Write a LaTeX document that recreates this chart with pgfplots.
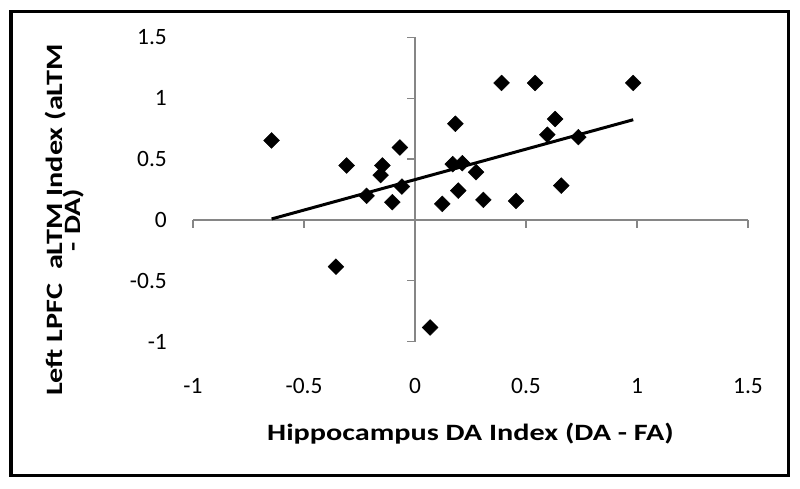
\documentclass[border=0pt]{standalone}
\usepackage{pgfplots}
\pgfplotsset{compat=1.18}
\usepackage{fontspec}
\setmainfont{Carlito}
\definecolor{axgray}{RGB}{134,134,134}
\begin{document}
\begin{tikzpicture}
\path[use as bounding box] (0,0) rectangle (800bp,489bp);
\draw[line width=3.5bp] (11bp,13.5bp) rectangle (788.5bp,477.5bp);
% axis lines through the origin
\begin{axis}[at={(193bp,147.3bp)}, anchor=south west, scale only axis,
  width=555bp, height=304.4bp,
  xmin=-1, xmax=1.5, ymin=-1, ymax=1.5,
  axis lines=middle, axis line style={-, draw=axgray, line width=1.2bp},
  xtick={-1,-0.5,0,0.5,1,1.5}, ytick={-1,-0.5,0,0.5,1,1.5},
  xticklabels={}, yticklabels={},
  tick align=outside, major tick length=8bp,
  tick style={draw=axgray, line width=1.2bp},
  clip=false]
\end{axis}
% labels and data
\begin{axis}[at={(193bp,147.3bp)}, anchor=south west, scale only axis,
  width=555bp, height=304.4bp,
  xmin=-1, xmax=1.5, ymin=-1, ymax=1.5,
  axis x line=bottom, axis y line=left, axis line style={draw=none},
  xtick={-1,-0.5,0,0.5,1,1.5}, ytick={-1,-0.5,0,0.5,1,1.5},
  xticklabels={-1,-0.5,0,0.5,1,1.5}, yticklabels={-1,-0.5,0,0.5,1,1.5},
  major tick length=0pt, tick style={draw=none},
  ticklabel style={font=\fontsize{23.5}{28}\selectfont},
  xticklabel style={anchor=north, inner sep=0pt, yshift=-36.3bp},
  yticklabel style={anchor=east, inner sep=0pt, xshift=-26bp},
  xlabel={\scalebox{1.29}[1]{Hippocampus DA Index (DA - FA)}},
  xlabel style={at={(axis description cs:0.5,0)}, anchor=base, inner sep=0pt,
    yshift=-98.3bp, font=\fontsize{23.5}{28}\selectfont\bfseries},
  clip=false]
\addplot[only marks, mark=square*, mark size=5.6bp,
  mark options={rotate=45, fill=black, draw=black}] coordinates {
(-0.646,0.653) (-0.356,-0.384) (-0.308,0.447) (-0.218,0.198) (-0.155,0.368)
(-0.147,0.447) (-0.102,0.146) (-0.068,0.595) (-0.059,0.274) (0.068,-0.883)
(0.123,0.132) (0.170,0.458) (0.182,0.790) (0.195,0.241) (0.213,0.466)
(0.275,0.392) (0.308,0.165) (0.390,1.125) (0.455,0.156) (0.541,1.125)
(0.596,0.700) (0.631,0.829) (0.659,0.282) (0.736,0.680) (0.983,1.125)
};
\addplot[black, line width=3bp] coordinates {(-0.646,0.008) (0.983,0.823)};
\end{axis}
\node[rotate=90, anchor=base, inner sep=0pt, font=\fontsize{23.5}{28}\selectfont\bfseries]
  at (62.5bp,269bp) {\scalebox{1.29}[1]{Left LPFC\ \ aLTM Index (aLTM}};
\node[rotate=90, anchor=base, inner sep=0pt, font=\fontsize{23.5}{28}\selectfont\bfseries]
  at (80bp,269bp) {\scalebox{1.29}[1]{- DA)}};
\end{tikzpicture}
\end{document}
